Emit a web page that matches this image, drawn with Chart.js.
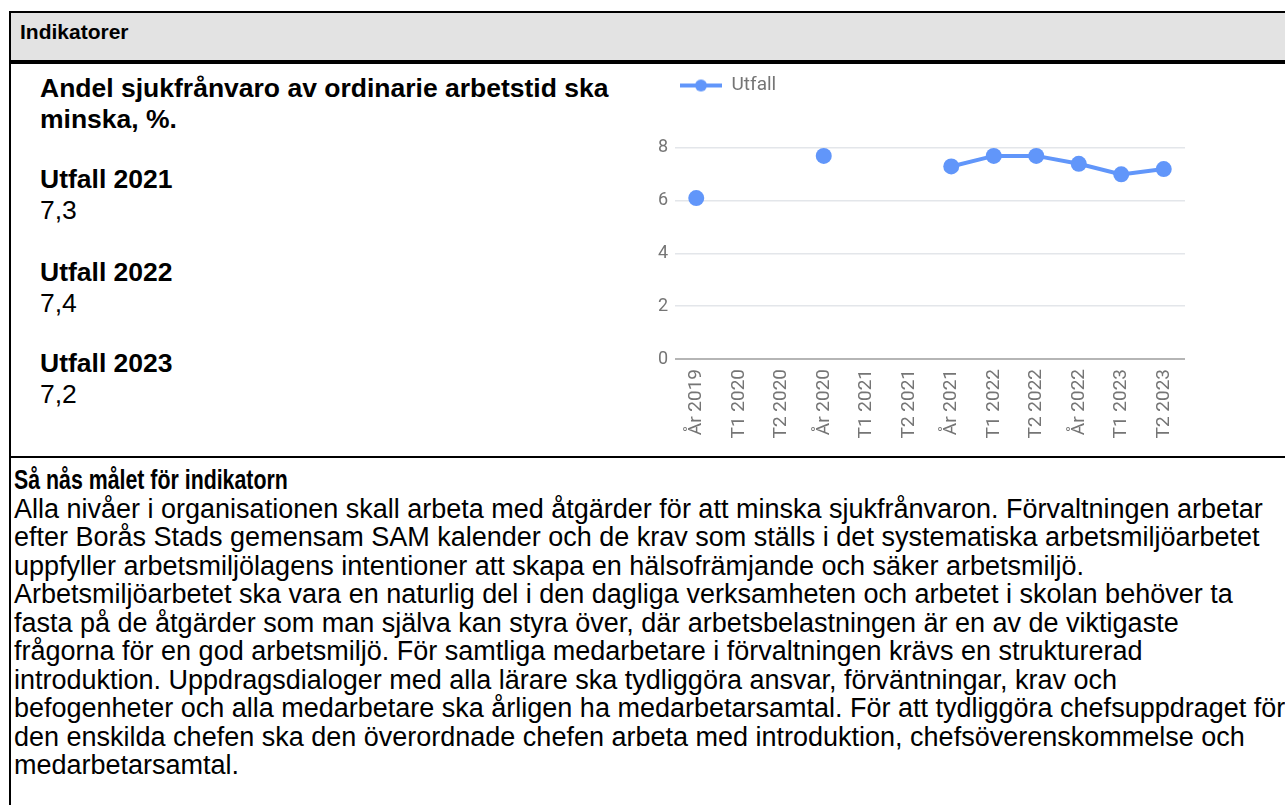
<!DOCTYPE html>
<html>
<head>
<meta charset="utf-8">
<script src="https://cdn.jsdelivr.net/npm/chart.js@4.4.0/dist/chart.umd.min.js"></script>
<style>
  body { margin: 0; background: #fff; width: 1285px; height: 805px; overflow: hidden; position: relative;
         font-family: "Liberation Sans", Arial, sans-serif; color: #000; }
  .frame-top { position: absolute; left: 9px; top: 11px; right: 0; height: 2px; background: #000; }
  .frame-left { position: absolute; left: 9px; top: 11px; width: 2px; bottom: 0; background: #000; }
  .header { position: absolute; left: 11px; top: 13px; right: 0; height: 47px; background: #e3e3e3; border-bottom: 4px solid #000; }
  .header-text { position: absolute; left: 20px; top: 20px; font-size: 21px; line-height: 24px; font-weight: bold; }
  .sep { position: absolute; left: 9px; top: 456px; right: 0; height: 2px; background: #000; }
  .lead { position: absolute; left: 40px; font-size: 26.5px; line-height: 31px; white-space: nowrap; }
  .body-text { position: absolute; left: 14px; top: 466px; font-size: 27px; line-height: 28.5px; white-space: nowrap; }
  .body-text b { display: inline-block; transform: scaleX(0.79); transform-origin: left center; }
  #chartBox { position: absolute; left: 640px; top: 71px; width: 560px; height: 384px; }
</style>
</head>
<body>
<div class="frame-top"></div>
<div class="header"></div>
<div class="frame-left"></div>
<div class="header-text">Indikatorer</div>

<div class="lead" style="top:73px"><b>Andel sjukfrånvaro av ordinarie arbetstid ska<br>minska, %.</b></div>
<div class="lead" style="top:164px"><b>Utfall 2021</b><br>7,3</div>
<div class="lead" style="top:257px"><b>Utfall 2022</b><br>7,4</div>
<div class="lead" style="top:348px"><b>Utfall 2023</b><br>7,2</div>

<div id="chartBox"><canvas id="indikatorChart" width="560" height="384"></canvas></div>

<div class="sep"></div>
<div class="body-text"><b>Så nås målet för indikatorn</b><br>
Alla nivåer i organisationen skall arbeta med åtgärder för att minska sjukfrånvaron. Förvaltningen arbetar<br>
efter Borås Stads gemensam SAM kalender och de krav som ställs i det systematiska arbetsmiljöarbetet<br>
uppfyller arbetsmiljölagens intentioner att skapa en hälsofrämjande och säker arbetsmiljö.<br>
Arbetsmiljöarbetet ska vara en naturlig del i den dagliga verksamheten och arbetet i skolan behöver ta<br>
fasta på de åtgärder som man själva kan styra över, där arbetsbelastningen är en av de viktigaste<br>
frågorna för en god arbetsmiljö. För samtliga medarbetare i förvaltningen krävs en strukturerad<br>
introduktion. Uppdragsdialoger med alla lärare ska tydliggöra ansvar, förväntningar, krav och<br>
befogenheter och alla medarbetare ska årligen ha medarbetarsamtal. För att tydliggöra chefsuppdraget för<br>
den enskilda chefen ska den överordnade chefen arbeta med introduktion, chefsöverenskommelse och<br>
medarbetarsamtal.</div>

<script>
// perioder på x-axeln
const categories = ['År 2019', 'T1 2020', 'T2 2020', 'År 2020', 'T1 2021', 'T2 2021',
                    'År 2021', 'T1 2022', 'T2 2022', 'År 2022', 'T1 2023', 'T2 2023'];
// sjukfrånvaro i %, null = saknas
const utfall = [6.1, null, null, 7.7, null, null, 7.3, 7.7, 7.7, 7.4, 7.0, 7.2];
const yTicks = [0, 2, 4, 6, 8];
const seriesName = 'Utfall';

const lineColor = '#6196fa';
const textGray = '#757575';

Chart.defaults.font.family = 'Roboto';

// legend symbol: line with a dot in the middle
function legendIcon() {
  const c = document.createElement('canvas');
  c.width = 42; c.height = 14;
  const g = c.getContext('2d');
  g.strokeStyle = lineColor;
  g.lineWidth = 4;
  g.beginPath(); g.moveTo(0, 7); g.lineTo(42, 7); g.stroke();
  g.fillStyle = lineColor;
  g.beginPath(); g.arc(21, 7, 6, 0, Math.PI * 2); g.fill();
  return c;
}
const icon = legendIcon();

const ctx = document.getElementById('indikatorChart').getContext('2d');
const chart = new Chart(ctx, {
  type: 'line',
  data: {
    labels: categories,
    datasets: [{
      label: seriesName,
      data: utfall,
      borderColor: lineColor,
      backgroundColor: lineColor,
      borderWidth: 4,
      pointRadius: 8,
      pointHoverRadius: 8,
      pointBorderWidth: 0,
      pointBackgroundColor: lineColor,
      spanGaps: false,
      tension: 0
    }]
  },
  options: {
    responsive: false,
    animation: false,
    devicePixelRatio: 1,
    layout: { padding: { left: 0, right: 15, top: 0, bottom: 0 } },
    plugins: {
      tooltip: { enabled: false },
      legend: {
        position: 'top',
        align: 'start',
        fullSize: false,
        labels: {
          usePointStyle: true,
          pointStyleWidth: 42,
          padding: 5,
          color: textGray,
          font: { size: 19 },
          generateLabels: () => [{
            text: seriesName,
            pointStyle: icon,
            fillStyle: lineColor,
            strokeStyle: lineColor,
            lineWidth: 0,
            hidden: false,
            datasetIndex: 0,
            fontColor: textGray
          }]
        }
      }
    },
    scales: {
      x: {
        offset: true,
        grid: { display: false, drawTicks: false },
        border: { display: false },
        afterFit: s => { s.height = 96; },
        ticks: { minRotation: 90, maxRotation: 90, autoSkip: false, padding: 10,
                 color: textGray, font: { size: 19 } }
      },
      y: {
        min: 0,
        max: 9.63,
        afterBuildTicks: s => { s.ticks = yTicks.map(v => ({ value: v })); },
        afterFit: s => { s.width = 35; },
        border: { display: false },
        grid: {
          drawTicks: false,
          color: c => (c.tick && c.tick.value === 0) ? '#b5b5b5' : '#e3e6ea',
          lineWidth: c => (c.tick && c.tick.value === 0) ? 2 : 1.5
        },
        ticks: { padding: 7, color: textGray, font: { size: 18 } }
      }
    }
  }
});
</script>
</body>
</html>
